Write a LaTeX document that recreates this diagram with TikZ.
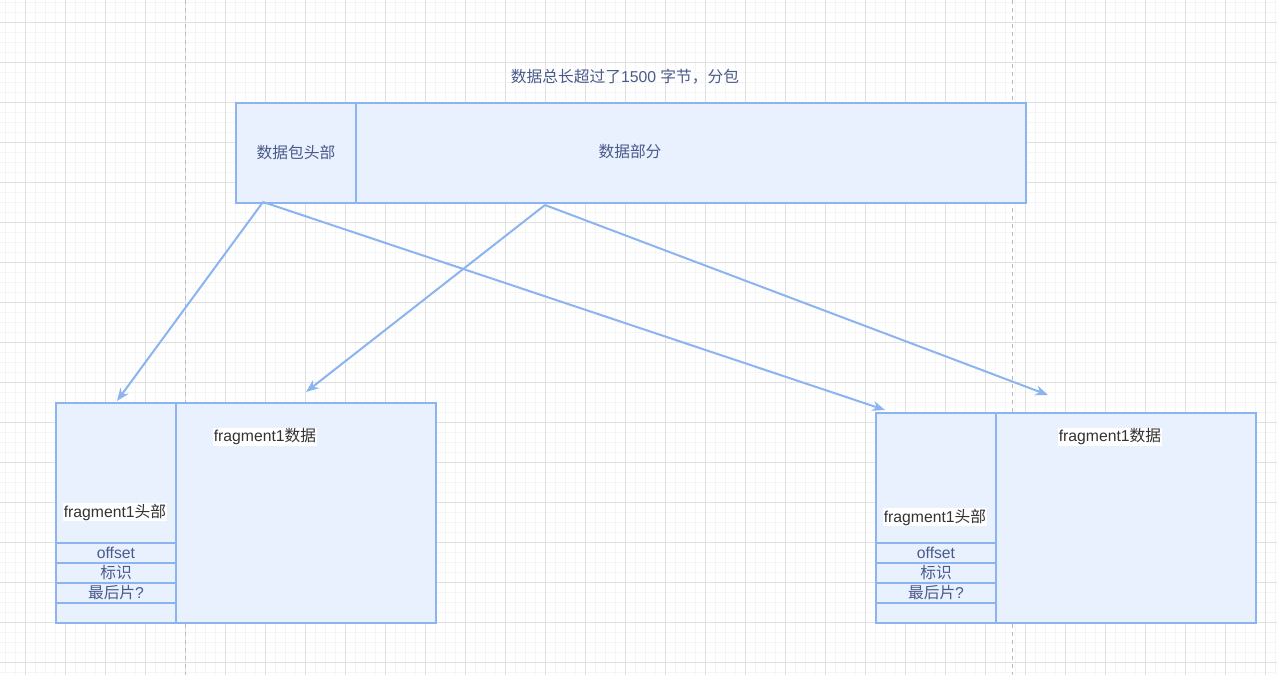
\documentclass[tikz,border=0pt]{standalone}
\usepackage{fontspec}
\setmainfont{Noto Sans CJK SC}
\newfontfamily\latf{Liberation Sans}
\usetikzlibrary{arrows.meta}
\definecolor{strk}{HTML}{8CB4F0}
\definecolor{fillc}{HTML}{E8F1FD}
\definecolor{txtb}{HTML}{4A5A8A}
\definecolor{txtd}{HTML}{333333}
\definecolor{gmin}{HTML}{F5F5F5}
\definecolor{gmaj}{HTML}{E0E0E0}
\definecolor{pgbrk}{HTML}{BDBDBD}
\begin{document}
\begin{tikzpicture}[x=0.75pt,y=-0.75pt,
  box/.style n args={2}{draw=strk, fill=fillc, line width=1.5pt, inner sep=0pt,
     anchor=north west, minimum width={#1*0.75pt}, minimum height={#2*0.75pt},
     text=txtb, font=\fontsize{11.8pt}{13pt}\selectfont},
  lbl/.style={text=txtb, inner sep=0pt, font=\fontsize{11.8pt}{13pt}\selectfont},
  wlbl/.style={fill=white, text=txtd, inner sep=0.8pt, font=\fontsize{11.8pt}{13pt}\selectfont},
  conn/.style={draw=strk, line width=1.5pt, -{Stealth[length=9.5pt,width=7.5pt,inset=3pt]}},
  gridmin/.style={draw=gmin, line width=0.6pt},
  gridmaj/.style={draw=gmaj, line width=0.75pt},
  pagebreak/.style={draw=pgbrk, line width=0.6pt, dash pattern=on 3pt off 3pt}
]
\useasboundingbox (0,0) rectangle (1277,675);
\fill[white] (0,0) rectangle (1277,675);
% grid
\foreach \gx in {5,15,...,1275} \draw[gridmin] (\gx,0) -- (\gx,675);
\foreach \gy in {2,12,...,672} \draw[gridmin] (0,\gy) -- (1277,\gy);
\foreach \gx in {25,65,...,1265} \draw[gridmaj] (\gx,0) -- (\gx,675);
\foreach \gy in {22,62,...,662} \draw[gridmaj] (0,\gy) -- (1277,\gy);
\draw[pagebreak] (185,0) -- (185,675);
\draw[pagebreak] (1012,0) -- (1012,675);

% title
\node[lbl] (title) at (625,77) {数据总长超过了{\latf 1500 }字节，分包};

% top packet
\node[box={120}{100}] (hdr) at (235,102) {数据包头部};
\node[box={670}{100}] (dat) at (355,102) {};
\node[lbl] (datt) at (630,152) {数据部分};

% left fragment
\node[box={120}{140}] (lh) at (55,402) {};
\node[box={120}{20}] (lo) at (55,542) {\latf offset};
\node[box={120}{20}] (li) at (55,562) {标识};
\node[box={120}{20}] (ll) at (55,582) {最后片{\latf ?}};
\node[box={120}{20}] (le) at (55,602) {};
\node[box={260}{220}] (ld) at (175,402) {};
\node[wlbl] (lht) at (115,512) {{\latf fragment1}头部};
\node[wlbl] (ldt) at (265,437) {{\latf fragment1}数据};

% right fragment
\node[box={120}{130}] (rh) at (875,412) {};
\node[box={120}{20}] (ro) at (875,542) {\latf offset};
\node[box={120}{20}] (ri) at (875,562) {标识};
\node[box={120}{20}] (rl) at (875,582) {最后片{\latf ?}};
\node[box={120}{20}] (re) at (875,602) {};
\node[box={260}{210}] (rd) at (995,412) {};
\node[wlbl] (rht) at (935,517) {{\latf fragment1}头部};
\node[wlbl] (rdt) at (1110,437) {{\latf fragment1}数据};

% connectors
\coordinate (s1) at (263,202);
\coordinate (s2) at (545,205);
\coordinate (e1) at (117,401);
\coordinate (e2) at (885,410);
\coordinate (e3) at (306,392);
\coordinate (e4) at (1048,395);
\draw[conn] (s1) -- (e1);
\draw[conn] (s1) -- (e2);
\draw[conn] (s2) -- (e3);
\draw[conn] (s2) -- (e4);
\end{tikzpicture}
\end{document}
